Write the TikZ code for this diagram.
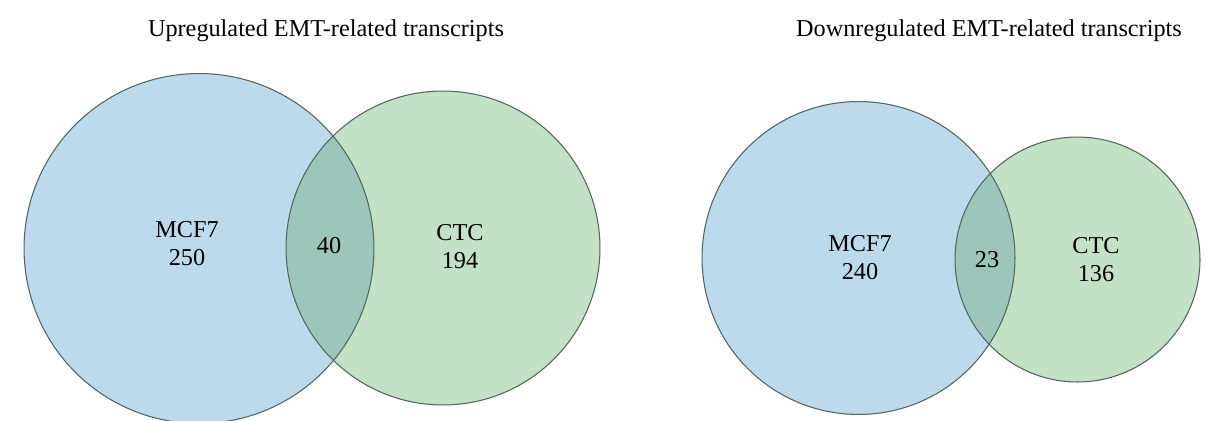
\documentclass[tikz,border=0pt]{standalone}
\usepackage{fontspec}
\setmainfont{Liberation Serif}
\usepackage{tikz}
\usetikzlibrary{positioning}

\definecolor{mcfblue}{RGB}{189,218,237}
\definecolor{ctcgreen}{RGB}{195,225,196}
\definecolor{bothteal}{RGB}{156,198,186}
\definecolor{rimgray}{RGB}{84,100,94}

\begin{document}
\begin{tikzpicture}[x=0.02cm, y=-0.02cm]
	\tikzstyle{setfill}=[circle, inner sep=0pt, outer sep=0pt]
	\tikzstyle{setrim}=[circle, inner sep=0pt, outer sep=0pt, draw=rimgray, line width=0.6pt]
	\tikzstyle{txt}=[font=\fontsize{13.8}{16}\selectfont, align=center, inner sep=0pt]
	\useasboundingbox (0,0) rectangle (1206,420);
	% upregulated
	\node[setfill, fill=mcfblue, minimum size=7cm] (mcfU) at (199,248.5) {};
	\node[setfill, fill=ctcgreen, minimum size=6.28cm] (ctcU) at (443,248) {};
	\begin{scope}
		\clip (mcfU.center) circle (175);
		\fill[bothteal] (ctcU.center) circle (157);
	\end{scope}
	\node[setrim, minimum size=7cm] at (mcfU) {};
	\node[setrim, minimum size=6.28cm] at (ctcU) {};
	% downregulated
	\node[setfill, fill=mcfblue, minimum size=6.26cm] (mcfD) at (858.5,258) {};
	\node[setfill, fill=ctcgreen, minimum size=4.9cm] (ctcD) at (1077.5,259.5) {};
	\begin{scope}
		\clip (mcfD.center) circle (156.5);
		\fill[bothteal] (ctcD.center) circle (122.5);
	\end{scope}
	\node[setrim, minimum size=6.26cm] at (mcfD) {};
	\node[setrim, minimum size=4.9cm] at (ctcD) {};
	% labels
	\node[txt] (titleU) at (326,31) {Upregulated EMT-related transcripts};
	\node[txt] (titleD) at (989,31) {Downregulated EMT-related transcripts};
	\node[txt] (mcfUlab) at (187,244) {MCF7\\250};
	\node[txt] (bothU) at (329,246) {40};
	\node[txt] (ctcUlab) at (460,247) {CTC\\194};
	\node[txt] (mcfDlab) at (860,258) {MCF7\\240};
	\node[txt] (bothD) at (987,260) {23};
	\node[txt] (ctcDlab) at (1096,260) {CTC\\136};
\end{tikzpicture}
\end{document}
